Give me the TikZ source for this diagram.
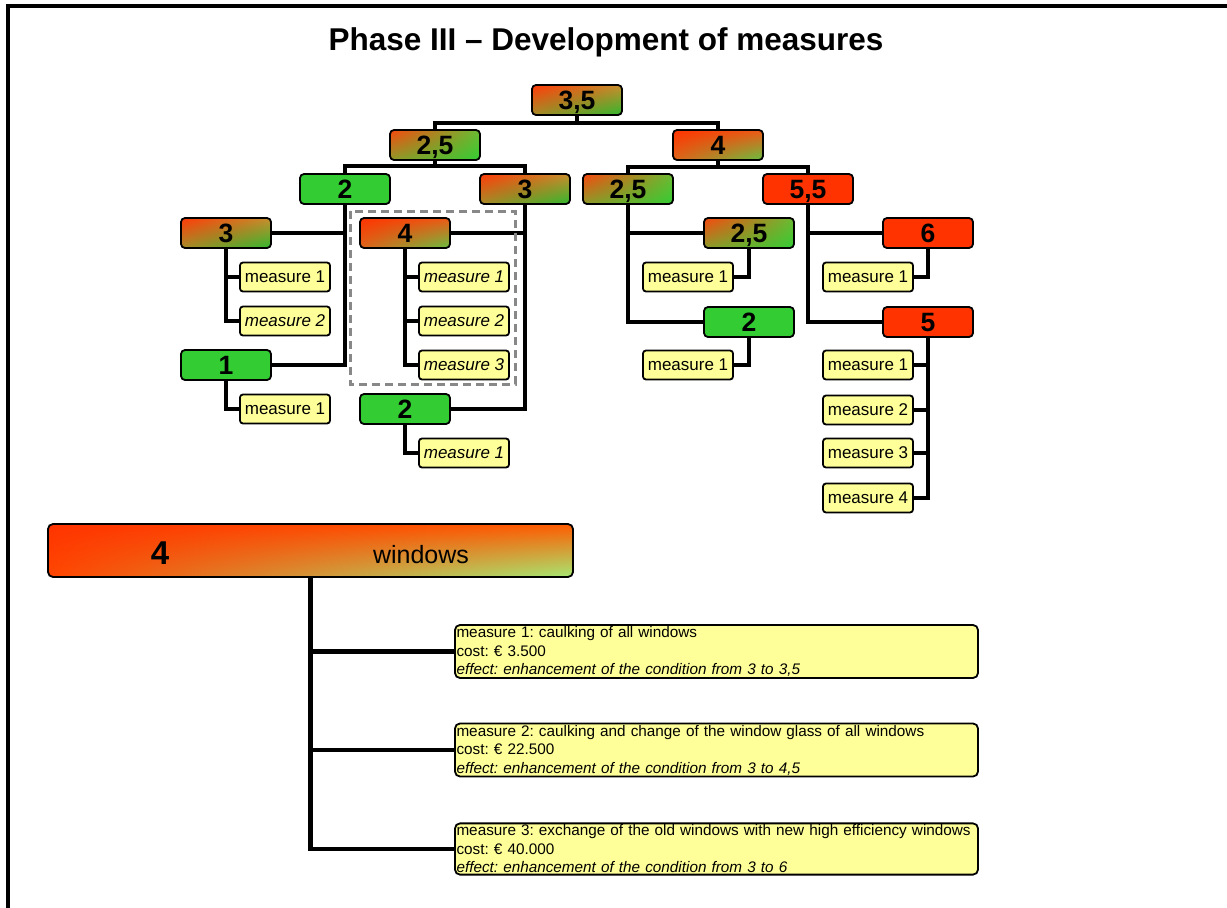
\documentclass[tikz,border=0pt]{standalone}
\usepackage{fontspec}
\setmainfont{Liberation Sans}
\usetikzlibrary{shadings,backgrounds}
\definecolor{G}{HTML}{33CC33}
\definecolor{R}{HTML}{FF3300}
\definecolor{Y}{HTML}{FFFF99}
\definecolor{DG}{HTML}{888888}
\definecolor{c1}{HTML}{F8480E}
\definecolor{c2}{HTML}{6CBB33}
\definecolor{c3}{HTML}{8E9A2A}
\definecolor{o1}{HTML}{FF3A08}
\definecolor{o2}{HTML}{C8902E}
\definecolor{o3}{HTML}{A88C28}
\definecolor{r2}{HTML}{EE5A16}
\definecolor{r3}{HTML}{E0641A}
\definecolor{r4}{HTML}{66C040}
\tikzset{
  box/.style={draw=black, line width=1.8pt, rounded corners=4pt, minimum width=90pt,
    minimum height=30pt, inner sep=0pt, text height=19pt, text depth=0pt,
    font=\fontsize{26.5}{26.5}\selectfont\bfseries},
  gbox/.style={box, fill=G},
  rbox/.style={box, fill=R},
  mixbox/.style={box, upper left=c1, upper right=c2, lower left=c3, lower right=G},
  orbox/.style={box, upper left=o1, upper right=o2, lower left=o3, lower right=G!90!black},
  redmix/.style={box, upper left=R, upper right=r2, lower left=r3, lower right=r4},
  meas/.style={draw=black, line width=1.8pt, rounded corners=3pt, fill=Y,
    minimum width=90pt, minimum height=29pt, inner sep=0pt,
    font=\fontsize{17}{17}\selectfont},
  imeas/.style={meas, font=\fontsize{17}{17}\selectfont\itshape},
  desc/.style={draw=black, line width=1.8pt, rounded corners=5pt, fill=Y,
    minimum width=523pt, minimum height=51pt, inner sep=1.5pt, text width=520pt,
    align=left, font=\fontsize{15.3}{18.5}\selectfont\frenchspacing},
  conn/.style={line width=4.5pt, line cap=rect, black},
}
\begin{document}
\begin{tikzpicture}[x=1pt,y=-1pt]
\useasboundingbox (0,0) rectangle (1227,908);
\draw[line width=3.5pt] (8,908) -- (8,6) -- (1227,6);

\node[font=\fontsize{31.5}{31.5}\selectfont\bfseries] (title) at (606,42) {Phase III -- Development of measures};

% tree nodes
\node[orbox] (r) at (577,100) {3,5};
\node[mixbox] (a) at (435,145) {2,5};
\node[redmix] (b) at (718,145) {4};
\node[gbox] (a1) at (345,189) {2};
\node[orbox] (a2) at (525,189) {3};
\node[mixbox] (b1) at (628,189) {2,5};
\node[rbox] (b2) at (808,189) {5,5};
\node[orbox] (a1a) at (226,233) {3};
\node[gbox] (a1b) at (226,365) {1};
\node[redmix] (a2a) at (405,233) {4};
\node[gbox] (a2b) at (405,409) {2};
\node[mixbox] (b1a) at (749,233) {2,5};
\node[gbox] (b1b) at (749,322) {2};
\node[rbox] (b2a) at (928,233) {6};
\node[rbox] (b2b) at (928,322) {5};

% measures
\node[meas] (m11) at (285,277) {measure 1};
\node[imeas] (m12) at (285,321) {measure 2};
\node[meas] (m21) at (285,409) {measure 1};
\node[imeas] (m31) at (464,277) {measure 1};
\node[imeas] (m32) at (464,321) {measure 2};
\node[imeas] (m33) at (464,365) {measure 3};
\node[imeas] (m41) at (464,453) {measure 1};
\node[meas] (m51) at (688,277) {measure 1};
\node[meas] (m61) at (688,365) {measure 1};
\node[meas] (m71) at (868,277) {measure 1};
\node[meas] (m81) at (868,365) {measure 1};
\node[meas] (m82) at (868,410) {measure 2};
\node[meas] (m83) at (868,453) {measure 3};
\node[meas] (m84) at (868,498) {measure 4};

% bottom detail
\node[draw=black, line width=1.8pt, rounded corners=5pt, minimum width=525pt, minimum height=53pt,
  inner sep=0pt, upper left=R, upper right=R!70!orange!90!yellow, lower left=R!75!orange,
  lower right=G!55!white!80!yellow] (w) at (310.5,550.5) {};
\node[font=\fontsize{33}{33}\selectfont\bfseries] (w4) at (160,553) {4};
\node[font=\fontsize{25}{25}\selectfont] (wt) at (421,555) {windows};

\node[desc] (d1) at (716.5,651.5) {measure 1: caulking of all windows\\cost: € 3.500\\\textit{effect: enhancement of the condition from 3 to 3,5}};
\node[desc] (d2) at (716.5,750) {measure 2: caulking and change of the window glass of all windows\\cost: € 22.500\\\textit{effect: enhancement of the condition from 3 to 4,5}};
\node[desc] (d3) at (716.5,849) {measure 3: exchange of the old windows with new high efficiency windows\\cost: € 40.000\\\textit{effect: enhancement of the condition from 3 to 6}};

% dashed selection box
\draw[DG, line width=3pt, dash pattern=on 8pt off 5pt] (350,211) rectangle (515,384);

\begin{pgfonlayer}{background}
\fill[white] (0,0) rectangle (1227,908);
% connectors level 1/2
\draw[conn] (r.south) -- (r.south |- 0,123);
\draw[conn] (a.north) -- (a.north |- 0,123) -- (b.north |- 0,123) -- (b.north);
\draw[conn] (a.south) -- (a.south |- 0,166);
\draw[conn] (a1.north) -- (a1.north |- 0,166) -- (a2.north |- 0,166) -- (a2.north);
\draw[conn] (b.south) -- (b.south |- 0,167);
\draw[conn] (b1.north) -- (b1.north |- 0,167) -- (b2.north |- 0,167) -- (b2.north);
% trunks level 3
\draw[conn] (a1.south) |- (a1b.east);
\draw[conn] (a1a.east) -- (a1a.east -| a1.south);
\draw[conn] (a2.south) |- (a2b.east);
\draw[conn] (a2a.east) -- (a2a.east -| a2.south);
\draw[conn] (b1.south) |- (b1b.west);
\draw[conn] (b1a.west) -- (b1a.west -| b1.south);
\draw[conn] (b2.south) |- (b2b.west);
\draw[conn] (b2a.west) -- (b2a.west -| b2.south);
% measure trunks
\draw[conn] (a1a.south) |- (m12.west);
\draw[conn] (m11.west) -- (m11.west -| a1a.south);
\draw[conn] (a1b.south) |- (m21.west);
\draw[conn] (a2a.south) |- (m33.west);
\draw[conn] (m31.west) -- (m31.west -| a2a.south);
\draw[conn] (m32.west) -- (m32.west -| a2a.south);
\draw[conn] (a2b.south) |- (m41.west);
\draw[conn] (b1a.south) |- (m51.east);
\draw[conn] (b1b.south) |- (m61.east);
\draw[conn] (b2a.south) |- (m71.east);
\draw[conn] (b2b.south) |- (m84.east);
\draw[conn] (m81.east) -- (m81.east -| b2b.south);
\draw[conn] (m82.east) -- (m82.east -| b2b.south);
\draw[conn] (m83.east) -- (m83.east -| b2b.south);
% bottom connectors
\draw[conn] (w.south) |- (d3.west);
\draw[conn] (d1.west) -- (d1.west -| w.south);
\draw[conn] (d2.west) -- (d2.west -| w.south);
\end{pgfonlayer}
\end{tikzpicture}
\end{document}
